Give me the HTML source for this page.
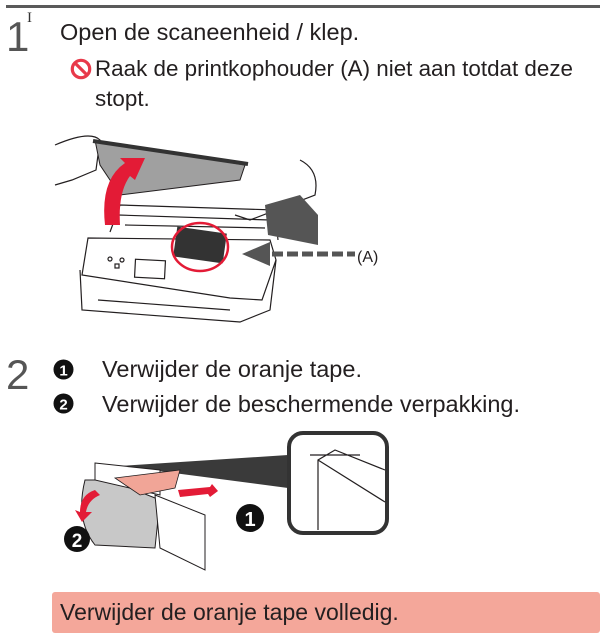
<!DOCTYPE html>
<html><head><meta charset="utf-8"><style>
html,body{margin:0;padding:0;background:#fff;}
body{width:605px;height:640px;position:relative;overflow:hidden;font-family:"Liberation Sans",sans-serif;color:#231f20;}
.a{position:absolute;white-space:nowrap;}
</style></head><body>
<div class="a" style="left:6px;top:5px;width:594px;height:3px;background:#5a5a5a"></div>
<div class="a" style="left:6px;top:14px;font-size:42px;color:#555;line-height:46px">1</div>
<div class="a" style="left:27px;top:10px;font-size:15px;color:#333;font-family:'Liberation Serif',serif">I</div>
<div class="a" style="left:60px;top:18px;font-size:23.5px;line-height:28px">Open de scaneenheid / klep.</div>
<svg class="a" style="left:70px;top:58px" width="22" height="22"><circle cx="11" cy="11" r="8.7" fill="none" stroke="#e8394a" stroke-width="3.2"/><line x1="5" y1="5" x2="17" y2="17" stroke="#e8394a" stroke-width="3.2"/></svg>
<div class="a" style="left:95px;top:54px;font-size:22.4px;line-height:30px">Raak de printkophouder (A) niet aan totdat deze<br>stopt.</div>

<svg class="a" style="left:0;top:120px" width="400" height="210" viewBox="0 120 400 210">
<g fill="none" stroke="#231f20" stroke-width="1.2">
<path d="M82 275 L88 238 L270 240 L276 260 L262 300 L230 298 Z" fill="#fff"/>
<path d="M80 270 L82 310 L240 322 L270 310 L276 260"/>
<path d="M98 300 L230 310"/>
<path d="M110 232 L120 205 L275 210 L278 240"/>
<path d="M118 215 L270 220 M125 225 L265 228"/>
<rect x="135" y="260" width="30" height="18" transform="rotate(3 150 269)"/>
<circle cx="110" cy="259" r="2"/><circle cx="122" cy="260" r="2"/><rect x="115" y="264" width="4" height="4"/>
<path d="M55 145 Q90 130 100 140 L96 170 L72 180 L55 185"/>
<path d="M300 160 Q320 170 315 195 L250 220 L235 215"/>
</g>
<path d="M95 140 L245 165 L240 180 L120 195 L100 165 Z" fill="#a0a0a0" stroke="#231f20"/>
<path d="M93 141 L248 164" stroke="#333" stroke-width="4"/>
<path d="M265 205 L300 195 L318 215 L318 245 L268 235 Z" fill="#555"/>
<rect x="175" y="230" width="50" height="30" fill="#333" transform="rotate(8 200 245)"/>
<ellipse cx="200" cy="247" rx="28" ry="24" fill="none" stroke="#e31b36" stroke-width="2.5"/>
<path d="M105 225 Q100 180 125 163 L120 158 L145 158 L135 180 L130 176 Q118 192 120 225 Z" fill="#e31b36"/>
<path d="M242 254 L270 242 L270 266 Z" fill="#555"/>
<path d="M272 254 L355 254" stroke="#555" stroke-width="5" stroke-dasharray="11 4"/>
<text x="357" y="262" font-size="16" font-family="Liberation Sans" fill="#231f20">(A)</text>
</svg>

<div class="a" style="left:6px;top:352px;font-size:42px;color:#555;line-height:46px">2</div>
<svg class="a" style="left:53px;top:359px" width="21" height="21"><circle cx="10.5" cy="10.5" r="10" fill="#111"/><text x="10.5" y="16.5" text-anchor="middle" font-size="15" font-weight="bold" fill="#fff" font-family="Liberation Sans">1</text></svg>
<svg class="a" style="left:53px;top:393px" width="21" height="21"><circle cx="10.5" cy="10.5" r="10" fill="#111"/><text x="10.5" y="16.5" text-anchor="middle" font-size="15" font-weight="bold" fill="#fff" font-family="Liberation Sans">2</text></svg>
<div class="a" style="left:102px;top:352px;font-size:23.5px;line-height:35px">Verwijder de oranje tape.<br>Verwijder de beschermende verpakking.</div>

<svg class="a" style="left:0;top:425px" width="400" height="160" viewBox="0 425 400 160">
<path d="M120 466 L288 455 L288 488 Z" fill="#3a3a3a"/>
<rect x="289" y="433" width="98" height="100" rx="14" fill="#fff" stroke="#333" stroke-width="4"/>
<path d="M318 530 L318 460 L335 450 L385 470 M318 460 L385 502 M310 455 L360 455" fill="none" stroke="#231f20" stroke-width="1.2"/>
<path d="M85 480 Q75 520 95 545 L155 548 L160 500 L110 480 Z" fill="#c8c8c8" stroke="#231f20"/>
<path d="M155 495 L205 515 L205 570 L160 548 Z" fill="#fff" stroke="#231f20"/>
<path d="M95 463 L160 470 L160 495 L95 480 Z" fill="#fff" stroke="#231f20"/>
<path d="M115 478 L180 470 L175 488 L140 495 Z" fill="#f1a597" stroke="#231f20" stroke-width=".8"/>
<path d="M178 490 L210 487 L212 484 L218 491 L210 497 L208 494 L180 497 Z" fill="#e31b36"/>
<path d="M95 490 Q80 495 80 512 L75 510 L82 522 L92 512 L86 512 Q88 500 100 495 Z" fill="#e31b36"/>
<circle cx="250" cy="518" r="14" fill="#111"/><text x="250" y="526" text-anchor="middle" font-size="20" font-weight="bold" fill="#fff" font-family="Liberation Sans">1</text>
<circle cx="77" cy="539" r="13" fill="#111"/><text x="77" y="547" text-anchor="middle" font-size="19" font-weight="bold" fill="#fff" font-family="Liberation Sans">2</text>
</svg>

<div class="a" style="left:52px;top:592px;width:548px;height:41px;background:#f4a79a;border-radius:3px"></div>
<div class="a" style="left:60px;top:597px;font-size:23px;line-height:30px">Verwijder de oranje tape volledig.</div>
</body></html>
